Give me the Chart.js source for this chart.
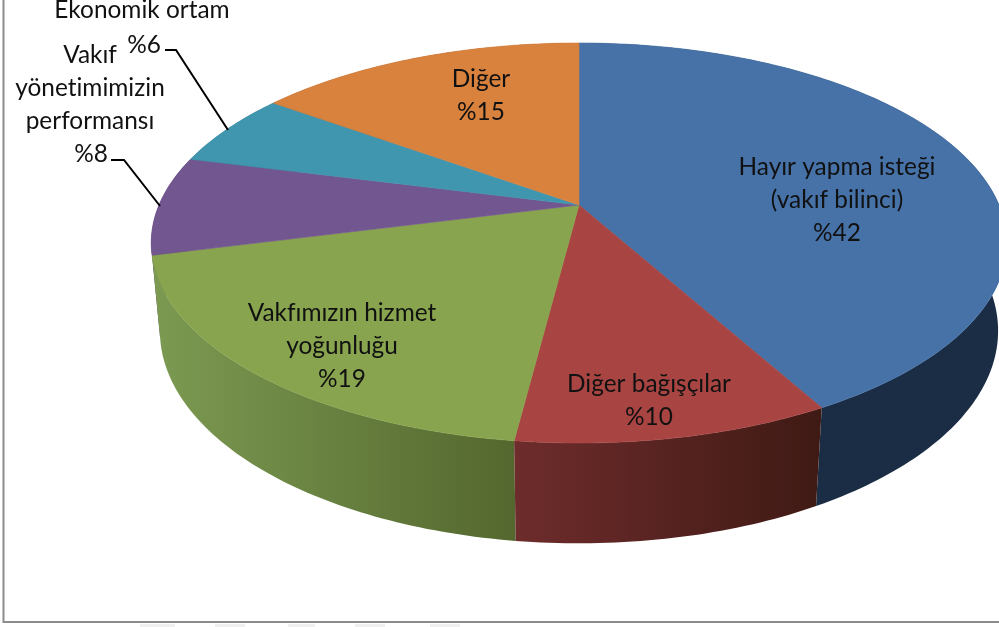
<!DOCTYPE html>
<html><head><meta charset="utf-8">
<style>html,body{margin:0;padding:0;background:#fff;overflow:hidden}canvas{display:block}</style>
<script src="https://cdn.jsdelivr.net/npm/chart.js@4"></script>
</head><body><canvas id="c" width="999" height="627"></canvas>
<script>
const categories = ["Hayır yapma isteği\n(vakıf bilinci)", "Diğer bağışçılar", "Vakfımızın hizmet\nyoğunluğu", "Vakıf\nyönetimimizin\nperformansı", "Ekonomik ortam", "Diğer"];
const values = [42, 10, 19, 8, 6, 15];
const topColors = ["#4672a8", "#a84543", "#88a44e", "#725690", "#4096ae", "#d8823e"];
const wallLeft = ["#1a2d45", "#6e2c2c", "#7c9a52", "#46345a", "#275c6c", "#8a5226"];
const wallRight = ["#1a2d45", "#3f1a14", "#54672e", "#46345a", "#275c6c", "#8a5226"];

// Perspective model of the tilted pie
const P = {cx: 579, cy: 205, R: 420, k: 0.19, a: 192.8, depth: 88, shrink: 0.02};
function project(theta, r, lower) {
  const x = r * Math.sin(theta), y = -r * Math.cos(theta);
  const w = 1 - P.k * y + (lower ? P.shrink : 0);
  return [P.cx + P.R * x / w, P.cy + (P.a * y + (lower ? P.depth : 0)) / w];
}
// Text placement: [centre x, first-line y] per slice, line step shared
const labelSpots = [[837,167],[649,384],[342,313],[90,55],[142,10],[481,79]];
const percentSpots = {3:[91,154],4:[144,45]};
const leaders = {3:[[111,160],[124,160],[160,206]],4:[[165,50],[176,50],[228,130]]};

const pie3d = {
  id: 'pie3d',
  beforeDraw(chart) {
    const g = chart.ctx;
    g.save();
    g.fillStyle = '#fff'; g.fillRect(0,0,999,627);
    g.fillStyle = '#f0f0f0';
    [[140,35],[215,30],[288,27],[355,30],[430,30]].forEach(b => g.fillRect(b[0],624,b[1],3));
    g.strokeStyle = '#8c8c8c'; g.lineWidth = 2;
    g.beginPath(); g.moveTo(3.5,0); g.lineTo(3.5,622); g.lineTo(999,622); g.stroke();
    g.restore();
  },
  beforeDatasetDraw(chart, args) {
    const g = chart.ctx, arcs = args.meta.data;
    const slices = arcs.map((a, i) => ({i, s: a.startAngle + Math.PI/2, e: a.endAngle + Math.PI/2}));
    const steps = (d) => Math.max(8, Math.ceil(d * 60));
    const rim = (s, e, lower) => {
      const pts = [], n = steps(e - s);
      for (let j = 0; j <= n; j++) pts.push(project(s + (e - s) * j / n, 1, lower));
      return pts;
    };
    const order = slices.slice().sort((p, q) =>
      Math.abs((q.s+q.e)/2 - Math.PI) - Math.abs((p.s+p.e)/2 - Math.PI));
    const trace = (pts) => { g.beginPath(); pts.forEach((p, j) => j ? g.lineTo(p[0],p[1]) : g.moveTo(p[0],p[1])); g.closePath(); };
    g.save();
    order.forEach(sl => {
      const upper = rim(sl.s, sl.e, false), lower = rim(sl.s, sl.e, true).reverse();
      const xs = upper.concat(lower).map(p => p[0]);
      const grad = g.createLinearGradient(Math.min(...xs),0,Math.max(...xs),0);
      grad.addColorStop(0, wallLeft[sl.i]); grad.addColorStop(1, wallRight[sl.i]);
      trace(upper.concat(lower));
      g.fillStyle = grad; g.fill();
    });
    slices.forEach(sl => {
      const pts = [[P.cx, P.cy]].concat(rim(sl.s, sl.e, false));
      trace(pts);
      g.fillStyle = topColors[sl.i]; g.fill();
      g.strokeStyle = topColors[sl.i]; g.lineWidth = 0.6; g.stroke();
    });
    g.restore();
    return false;
  },
  afterDatasetsDraw(chart) {
    const g = chart.ctx, step = 33;
    g.save();
    g.fillStyle = '#111'; g.textAlign = 'center'; g.textBaseline = 'middle';
    g.font = '24.4px Lato, Carlito, sans-serif';
    g.letterSpacing = '0.01px';
    categories.forEach((c, i) => {
      const lines = c.split('\n');
      const [x, y] = labelSpots[i];
      lines.forEach((t, j) => g.fillText(t, x, y + j * step));
      const pct = '%' + values[i];
      const ps = percentSpots[i];
      if (ps) g.fillText(pct, ps[0], ps[1]);
      else g.fillText(pct, x, y + lines.length * step);
    });
    g.strokeStyle = '#000'; g.lineWidth = 2;
    Object.values(leaders).forEach(l => {
      g.beginPath();
      l.forEach((p, j) => j ? g.lineTo(p[0],p[1]) : g.moveTo(p[0],p[1]));
      g.stroke();
    });
    g.restore();
  }
};

new Chart(document.getElementById('c'), {
  type: 'pie',
  data: {labels: categories, datasets: [{data: values, backgroundColor: topColors, borderWidth: 0}]},
  options: {
    responsive: false, animation: false,
    plugins: {legend: {display: false}, tooltip: {enabled: false}}
  },
  plugins: [pie3d]
});
</script></body></html>
